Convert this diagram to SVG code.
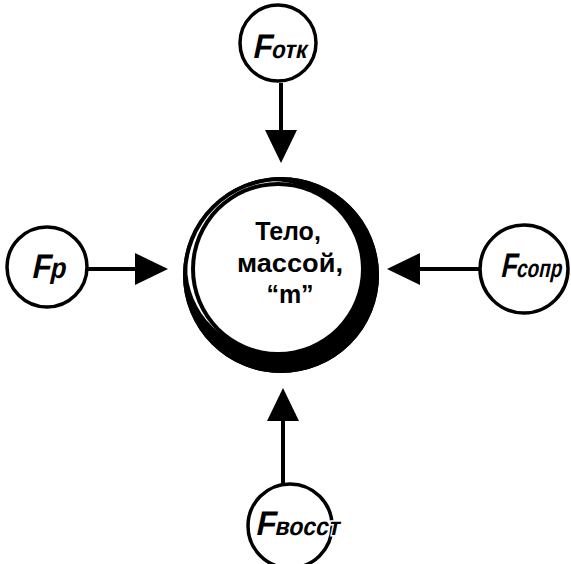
<svg xmlns="http://www.w3.org/2000/svg" width="571" height="564" viewBox="0 0 571 564">
  <style>
    .ring { fill: #fff; stroke: #000; stroke-width: 3.5; }
    .lbl { font-family: "Liberation Sans", Arial, sans-serif; font-weight: bold; fill: #000; }
    .halo { stroke: #fff; stroke-width: 3; paint-order: stroke; }
    .body { font-family: "Liberation Sans", Arial, sans-serif; font-weight: bold; font-size: 25px; fill: #000; text-anchor: middle; }
    .conn { stroke: #000; stroke-width: 4; fill: none; marker-end: url(#head); }
  </style>
  <defs>
    <marker id="head" markerUnits="userSpaceOnUse" markerWidth="34" markerHeight="34" refX="2" refY="16" orient="auto" overflow="visible">
      <path d="M0,0 L33,16 L0,32 Z" fill="#000"/>
    </marker>
  </defs>

  <rect width="571" height="564" fill="#fff"/>

  <!-- connectors: force arrows pointing at the body -->
  <g id="connectors">
    <line class="conn" x1="281" y1="83" x2="281" y2="132"/>
    <line class="conn" x1="87" y1="269" x2="137" y2="269"/>
    <line class="conn" x1="481" y1="269" x2="418" y2="269"/>
    <line class="conn" x1="283" y1="485" x2="283" y2="419"/>
  </g>

  <!-- central body: double ring with a heavy shadow crescent -->
  <g id="body">
    <circle cx="281" cy="275" r="98" fill="#000"/>
    <circle cx="272" cy="266" r="85" fill="#fff"/>
    <circle cx="281" cy="275" r="96" fill="none" stroke="#000" stroke-width="4"/>
    <circle cx="278" cy="269" r="87" fill="#000"/>
    <circle cx="278" cy="269" r="83" fill="#fff"/>
    <text class="body" x="288" y="240">Тело,</text>
    <text class="body" x="290" y="272" textLength="106" lengthAdjust="spacingAndGlyphs">массой,</text>
    <text class="body" x="290" y="303">“m”</text>
  </g>

  <!-- force labels: slanted bold text, large F with small-cap subscript -->
  <g id="f-otk">
    <circle class="ring" cx="278" cy="43" r="38"/>
    <text class="lbl" transform="translate(252,58) skewX(-12)" textLength="54" lengthAdjust="spacingAndGlyphs"><tspan font-size="34">F</tspan><tspan font-size="25">отк</tspan></text>
  </g>

  <g id="f-r">
    <circle class="ring" cx="47" cy="267" r="40"/>
    <text class="lbl" transform="translate(31,278) skewX(-12)" textLength="34" lengthAdjust="spacingAndGlyphs"><tspan font-size="34">F</tspan><tspan font-size="29">р</tspan></text>
  </g>

  <g id="f-sopr">
    <circle class="ring" cx="524" cy="269" r="44"/>
    <text class="lbl halo" transform="translate(500,277) skewX(-12)" textLength="61" lengthAdjust="spacingAndGlyphs"><tspan font-size="34">F</tspan><tspan font-size="25">сопр</tspan></text>
  </g>

  <g id="f-vosst">
    <circle class="ring" cx="290" cy="526" r="42"/>
    <text class="lbl halo" transform="translate(255,535) skewX(-12)" textLength="84" lengthAdjust="spacingAndGlyphs"><tspan font-size="34">F</tspan><tspan font-size="25">восст</tspan></text>
  </g>
</svg>
